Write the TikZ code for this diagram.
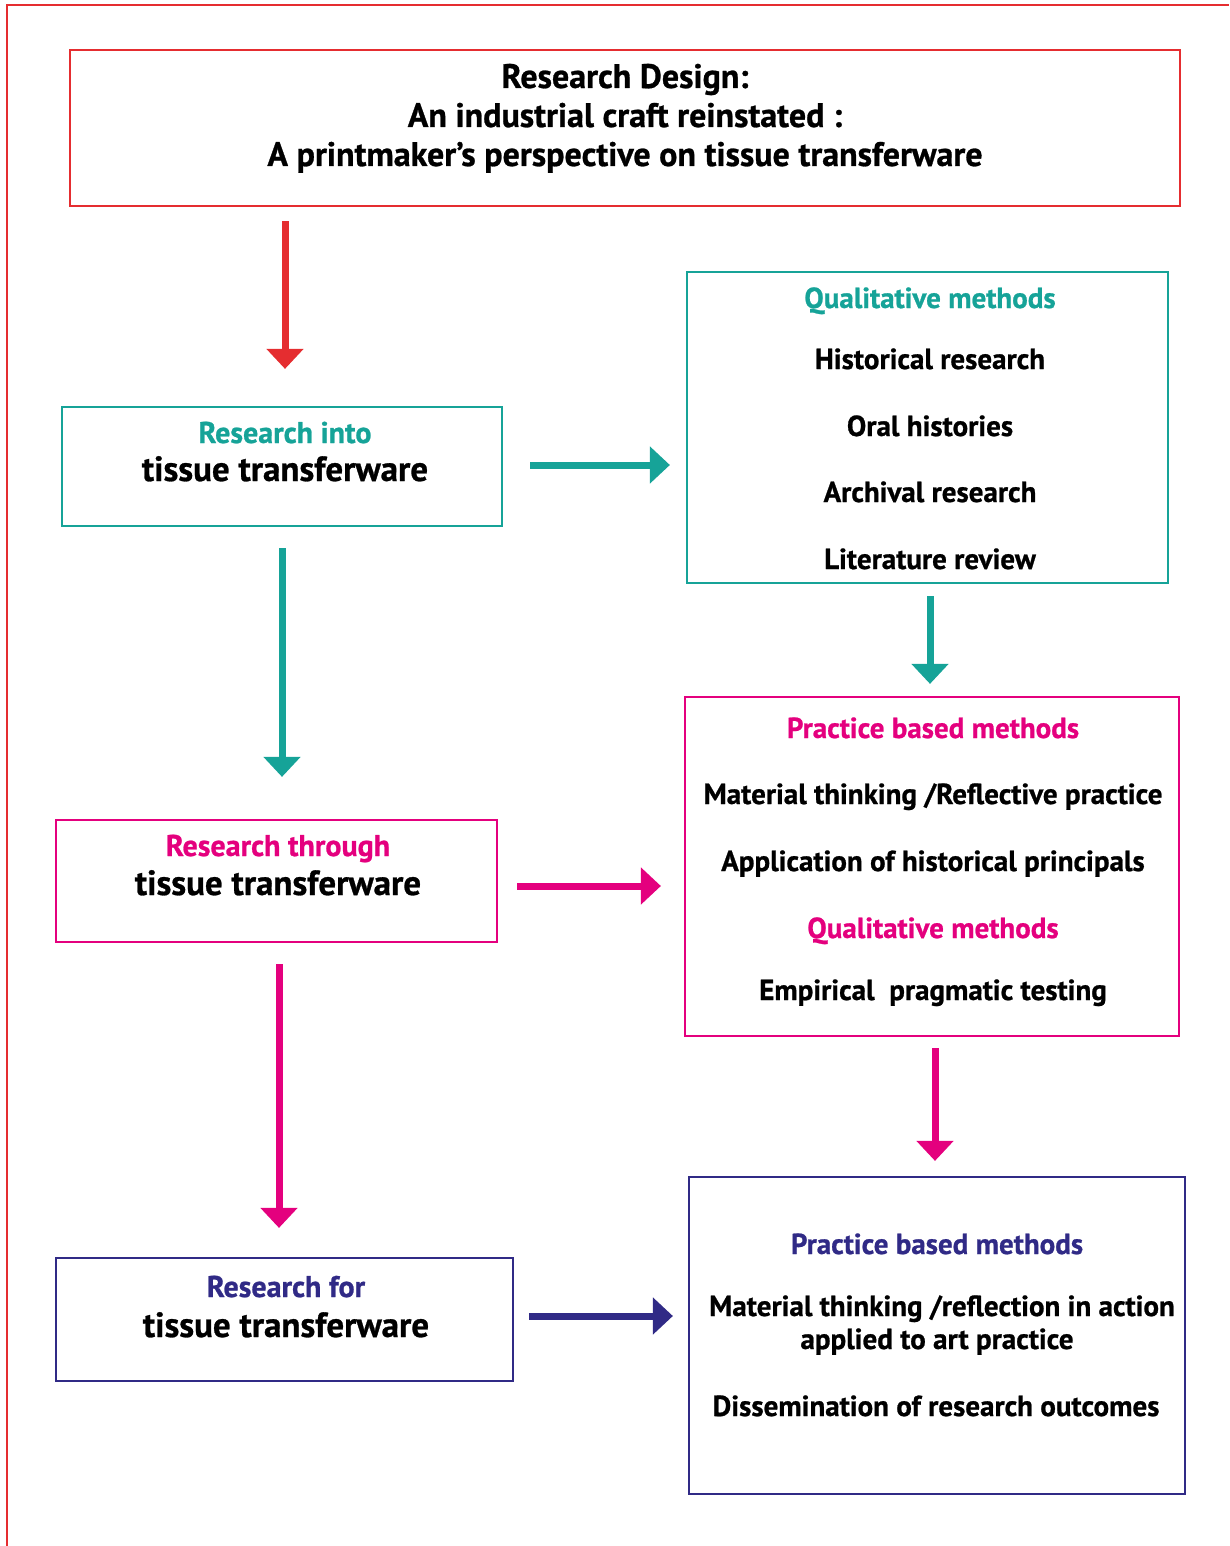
\documentclass[tikz,border=0pt]{standalone}
\usepackage{fontspec}
\setmainfont{PT Sans}[BoldFeatures={FakeBold=0.8}]
\usetikzlibrary{arrows.meta}

\definecolor{cRed}{RGB}{229,45,48}
\definecolor{cTeal}{RGB}{22,163,152}
\definecolor{cMag}{RGB}{228,0,126}
\definecolor{cPurp}{RGB}{48,42,134}

\tikzset{
  box/.style={draw=#1, line width=2.2pt, minimum width=0pt, inner sep=0pt},
  txt/.style={anchor=base, inner sep=0pt, font=\fontsize{29}{33}\selectfont\bfseries, text=black},
  title/.style={txt, font=\fontsize{34}{38}\selectfont\bfseries},
  big/.style={txt, font=\fontsize{35}{40}\selectfont\bfseries},
  head/.style={txt, text=#1},
  sub/.style={txt, text=#1, font=\fontsize{30}{34}\selectfont\bfseries},
  flow/.style={draw=#1, line width=7pt,
    -{Triangle[width=36pt,length=20pt]}, color=#1}
}

\begin{document}
\begin{tikzpicture}[x=1pt,y=-1pt]
\useasboundingbox (0,0) rectangle (1229,1546);

% outer frame (top and left edges)
\draw[cRed, line width=2.2pt] (7,1546) -- (7,5) -- (1229,5);

% boxes
\node[box=cRed,  minimum width=1110, minimum height=156] (design)  at (625,128) {};
\node[box=cTeal, minimum width=440,  minimum height=119] (into)    at (282,466.5) {};
\node[box=cTeal, minimum width=481,  minimum height=311] (qual)    at (927.5,427.5) {};
\node[box=cMag,  minimum width=441,  minimum height=122] (through) at (276.5,881) {};
\node[box=cMag,  minimum width=494,  minimum height=339] (prac)    at (932,866.5) {};
\node[box=cPurp, minimum width=457,  minimum height=123] (for)     at (284.5,1319.5) {};
\node[box=cPurp, minimum width=496,  minimum height=317] (final)   at (937,1335.5) {};

% title
\node[title] (d1) at (625,88)  {Research Design:};
\node[title] (d2) at (625,127) {An industrial craft reinstated :};
\node[title] (d3) at (625,166) {A printmaker’s perspective on tissue transferware};

% research into
\node[sub=cTeal] (i1) at (285,443) {Research into};
\node[big] (i2) at (285,481) {tissue transferware};

% qualitative methods
\node[head=cTeal] (q0) at (930,308) {Qualitative methods};
\node[txt] (q1) at (930,369) {Historical research};
\node[txt] (q2) at (930,436) {Oral histories};
\node[txt] (q3) at (930,502) {Archival research};
\node[txt] (q4) at (930,569) {Literature review};

% research through
\node[sub=cMag] (t1) at (278,856) {Research through};
\node[big] (t2) at (278,895) {tissue transferware};

% practice based methods
\node[head=cMag] (p0) at (933,738) {Practice based methods};
\node[txt] (p1) at (933,804) {Material thinking /Reflective practice};
\node[txt] (p2) at (933,871) {Application of historical principals};
\node[head=cMag] (p3) at (933,938) {Qualitative methods};
\node[txt] (p4) at (933,1000) {Empirical\ \ pragmatic testing};

% research for
\node[sub=cPurp] (f1) at (286,1297) {Research for};
\node[big] (f2) at (286,1337) {tissue transferware};

% practice based methods (outcomes)
\node[head=cPurp] (o0) at (937,1254) {Practice based methods};
\node[txt] (o1) at (942,1316) {Material thinking /reflection in action};
\node[txt] (o2) at (937,1349) {applied to art practice};
\node[txt] (o3) at (936,1416) {Dissemination of research outcomes};

% connectors
\draw[flow=cRed, shorten <=14pt, shorten >=37pt]
  ([xshift=3pt]design.south -| into.north) -- ([xshift=3pt]into.north);
\draw[flow=cTeal, shorten <=27pt, shorten >=16pt]
  ([yshift=1.5pt]into.east) -- ([yshift=1.5pt]into.east -| qual.west);
\draw[flow=cTeal, shorten <=21pt, shorten >=42pt]
  (into.south) -- (into.south |- through.north);
\draw[flow=cTeal, shorten <=12pt, shorten >=12pt]
  ([xshift=2.5pt]qual.south) -- ([xshift=2.5pt]qual.south |- prac.north);
\draw[flow=cMag, shorten <=19pt, shorten >=23pt]
  ([yshift=-5pt]through.east) -- ([yshift=-5pt]through.east -| prac.west);
\draw[flow=cMag, shorten <=21pt, shorten >=29pt]
  ([xshift=2.5pt]through.south) -- ([xshift=2.5pt]through.south |- for.north);
\draw[flow=cMag, shorten <=11pt, shorten >=15pt]
  ([xshift=3pt]prac.south) -- ([xshift=3pt]prac.south |- final.north);
\draw[flow=cPurp, shorten <=15pt, shorten >=15pt]
  ([yshift=3.5pt]for.east) -- ([yshift=3.5pt]for.east -| final.west);
\end{tikzpicture}
\end{document}
